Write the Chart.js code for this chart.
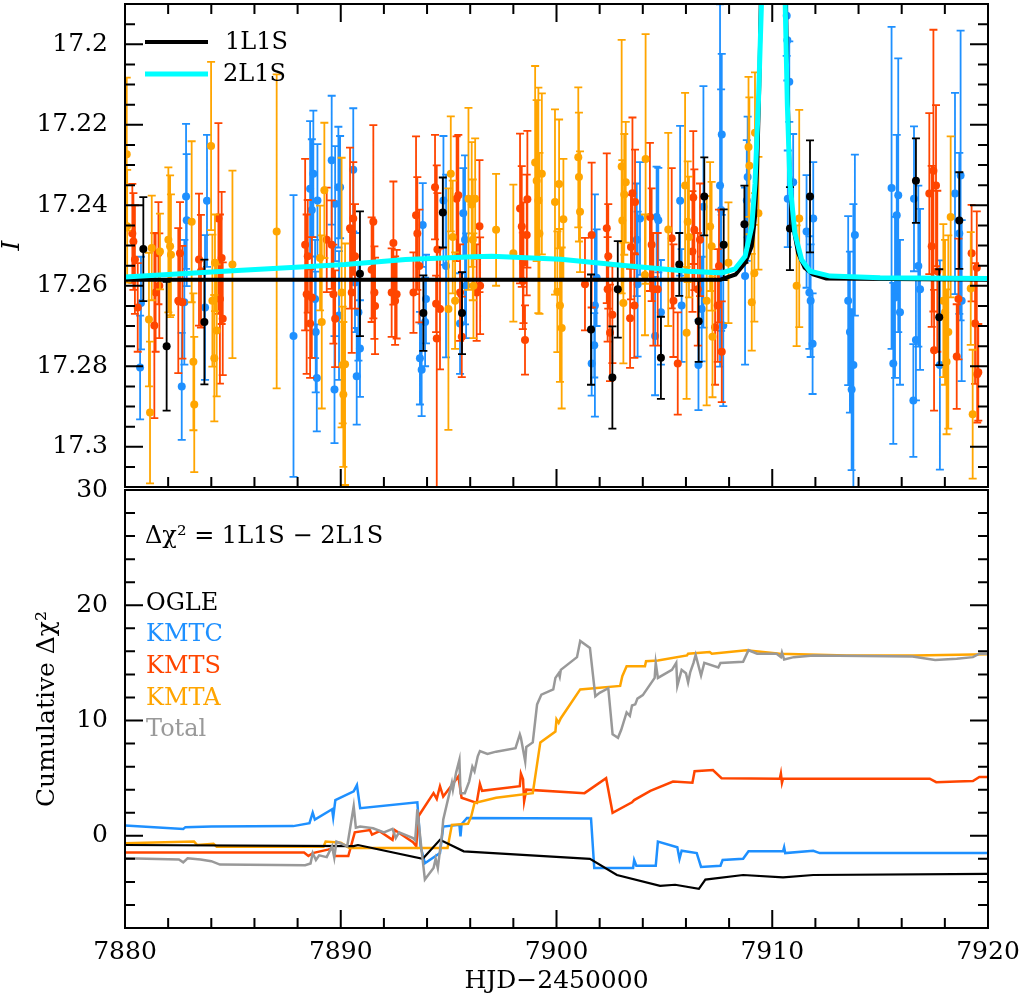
<!DOCTYPE html>
<html>
<head>
<meta charset="utf-8">
<script src="https://cdn.jsdelivr.net/npm/chart.js@4.4.1/dist/chart.umd.min.js"></script>
<style>
  html, body { margin: 0; padding: 0; background: #ffffff; }
  #wrap { position: relative; width: 1020px; height: 995px; overflow: hidden; }
  .panel { position: absolute; left: 0; width: 1020px; }
  #top { top: 0; height: 491px; }
  #bot { top: 470px; height: 525px; }
</style>
</head>
<body>
<div id="wrap">
  <div class="panel" id="top"><canvas id="lightCurve"></canvas></div>
  <div class="panel" id="bot"><canvas id="chiCurve"></canvas></div>
</div>
<script>
// ---- light curve data: [HJD-2450000, I mag, error] ----
const ogle = [
  [7880.85, 17.2509, 0.0129], [7881.93, 17.275, 0.016], [7883.68, 17.269, 0.0155],
  [7890.89, 17.257, 0.0155], [7893.83, 17.2668, 0.0094], [7894.73, 17.2418, 0.0087],
  [7895.62, 17.2668, 0.0102], [7901.60, 17.2709, 0.0137], [7902.59, 17.2828, 0.0127],
  [7902.84, 17.2609, 0.012], [7904.84, 17.2779, 0.0102], [7905.69, 17.2547, 0.0078],
  [7906.59, 17.2688, 0.0101], [7906.85, 17.2378, 0.0097], [7907.75, 17.2498, 0.0088],
  [7908.71, 17.2447, 0.0096], [7910.82, 17.2458, 0.0103], [7911.75, 17.2378, 0.0139],
  [7916.66, 17.2339, 0.0105], [7917.74, 17.2678, 0.0119], [7918.67, 17.2438, 0.012],
]
const kmtc = [
  [7880.70, 17.2803, 0.0129], [7880.74, 17.2643, 0.0115],
  [7882.63, 17.285, 0.0133], [7882.75, 17.2641, 0.0155], [7882.83, 17.2378, 0.018], [7882.86, 17.2437, 0.0164],
  [7883.71, 17.2654, 0.018], [7883.80, 17.2389, 0.0164],
  [7887.81, 17.2725, 0.035],
  [7888.58, 17.2359, 0.0168], [7888.66, 17.2412, 0.0176], [7888.73, 17.2322, 0.0157], [7888.81, 17.2633, 0.0147],
  [7888.84, 17.2715, 0.015], [7888.89, 17.2829, 0.0133], [7888.92, 17.2388, 0.014],
  [7889.58, 17.2288, 0.016], [7889.71, 17.2858, 0.0133], [7889.74, 17.2396, 0.0143], [7889.89, 17.2355, 0.015],
  [7889.92, 17.2674, 0.016], [7889.97, 17.2355, 0.0127],
  [7890.58, 17.2312, 0.0153], [7890.66, 17.2592, 0.0123], [7890.74, 17.2825, 0.012], [7890.82, 17.2666, 0.012],
  [7890.89, 17.2756, 0.012],
  [7893.67, 17.278, 0.0115], [7893.75, 17.2809, 0.0115], [7893.80, 17.2449, 0.0104], [7893.91, 17.269, 0.011],
  [7893.95, 17.2633, 0.011],
  [7894.76, 17.2388, 0.016], [7894.88, 17.2551, 0.0227],
  [7895.53, 17.2694, 0.0125], [7895.68, 17.242, 0.0112], [7895.76, 17.2486, 0.021], [7895.81, 17.26, 0.013],
  [7901.63, 17.2793, 0.008], [7901.75, 17.2748, 0.008], [7901.78, 17.2649, 0.0276], [7901.86, 17.258, 0.012],
  [7903.72, 17.2486, 0.014], [7903.76, 17.2596, 0.018], [7903.87, 17.2433, 0.014],
  [7904.57, 17.2725, 0.0147], [7904.64, 17.2429, 0.0125], [7904.72, 17.2437, 0.013], [7904.84, 17.2666, 0.013],
  [7905.73, 17.2389, 0.0186], [7905.80, 17.2649, 0.014],
  [7906.58, 17.2797, 0.0112], [7906.73, 17.2658, 0.013], [7906.81, 17.2404, 0.03],
  [7907.58, 17.2351, 0.045], [7907.63, 17.2412, 0.03], [7907.66, 17.2224, 0.02], [7907.73, 17.2699, 0.02],
  [7908.74, 17.2576, 0.022], [7908.82, 17.2388, 0.015], [7908.86, 17.233, 0.015],
  [7910.67, 17.1929, 0.01], [7910.70, 17.199, 0.01], [7910.79, 17.2093, 0.01], [7910.72, 17.2384, 0.012],
  [7910.97, 17.2343, 0.012],
  [7911.59, 17.2465, 0.014], [7911.72, 17.2617, 0.014], [7911.78, 17.2637, 0.014], [7911.87, 17.2744, 0.0125],
  [7911.90, 17.2433, 0.014],
  [7913.52, 17.2637, 0.021], [7913.60, 17.2715, 0.02], [7913.68, 17.2858, 0.02], [7913.76, 17.2797, 0.04],
  [7913.83, 17.2474, 0.02],
  [7915.53, 17.2357, 0.04], [7915.61, 17.2793, 0.02], [7915.69, 17.2629, 0.02], [7915.77, 17.2425, 0.02],
  [7915.84, 17.2375, 0.034], [7915.92, 17.2666, 0.018],
  [7916.54, 17.2885, 0.014], [7916.57, 17.2384, 0.018], [7916.66, 17.2735, 0.015], [7916.77, 17.2551, 0.02],
  [7916.85, 17.2609, 0.02],
  [7917.77, 17.2797, 0.026],
  [7918.47, 17.2371, 0.025], [7918.67, 17.247, 0.02], [7918.73, 17.2326, 0.036], [7918.78, 17.2637, 0.02],
]
const kmts = [
  [7880.34, 17.247, 0.0123], [7880.39, 17.249, 0.012], [7880.46, 17.2535, 0.0135], [7880.59, 17.2654, 0.011],
  [7881.36, 17.2699, 0.023], [7881.42, 17.2617, 0.0147], [7881.55, 17.2519, 0.0127], [7881.59, 17.26, 0.013],
  [7882.47, 17.2637, 0.018], [7882.55, 17.2519, 0.0127], [7882.66, 17.2641, 0.014],
  [7883.43, 17.2535, 0.0164], [7883.52, 17.2564, 0.014],
  [7884.33, 17.2433, 0.0237], [7884.40, 17.2633, 0.021], [7884.48, 17.2531, 0.0164], [7884.53, 17.2682, 0.014],
  [7888.35, 17.2498, 0.0213], [7888.42, 17.2621, 0.0198], [7888.47, 17.2527, 0.014], [7888.58, 17.2694, 0.0135],
  [7888.66, 17.2629, 0.015],
  [7889.35, 17.2486, 0.013], [7889.58, 17.2498, 0.011], [7889.66, 17.2621, 0.0123], [7889.74, 17.2682, 0.012],
  [7890.43, 17.2457, 0.02], [7890.51, 17.2617, 0.015], [7890.58, 17.2433, 0.014], [7890.66, 17.2527, 0.013],
  [7891.43, 17.256, 0.013], [7891.51, 17.2441, 0.024], [7891.56, 17.2617, 0.0115], [7891.59, 17.265, 0.012],
  [7892.36, 17.2617, 0.011], [7892.44, 17.2494, 0.0153], [7892.52, 17.2637, 0.011], [7892.59, 17.2621, 0.011],
  [7893.37, 17.2617, 0.01], [7893.49, 17.2425, 0.0196], [7893.55, 17.247, 0.014], [7893.64, 17.2551, 0.014],
  [7894.37, 17.2355, 0.013], [7894.42, 17.2645, 0.007], [7894.45, 17.2731, 0.043], [7894.48, 17.251, 0.014],
  [7894.60, 17.2658, 0.015],
  [7895.37, 17.2384, 0.0155], [7895.45, 17.2375, 0.015], [7895.53, 17.2617, 0.012], [7895.61, 17.2727, 0.01],
  [7896.30, 17.2617, 0.012], [7896.43, 17.2452, 0.0164], [7896.46, 17.26, 0.012],
  [7898.31, 17.2408, 0.0186], [7898.39, 17.2453, 0.015], [7898.44, 17.2588, 0.012], [7898.47, 17.2543, 0.015],
  [7898.54, 17.2735, 0.0086], [7898.62, 17.2474, 0.015], [7898.65, 17.2385, 0.017],
  [7901.32, 17.2596, 0.0115], [7901.63, 17.2474, 0.018],
  [7902.33, 17.2457, 0.0186], [7902.37, 17.2609, 0.013], [7902.40, 17.2527, 0.013], [7902.48, 17.2717, 0.012],
  [7902.59, 17.2672, 0.012],
  [7903.41, 17.2681, 0.0123], [7903.45, 17.2504, 0.013], [7903.52, 17.237, 0.0188], [7903.61, 17.2649, 0.013],
  [7903.64, 17.2392, 0.013],
  [7904.33, 17.2429, 0.0184], [7904.41, 17.2498, 0.014], [7904.49, 17.2609, 0.014], [7904.69, 17.2609, 0.014],
  [7905.34, 17.2482, 0.0174], [7905.42, 17.2637, 0.014], [7905.62, 17.2793, 0.0127],
  [7906.30, 17.2515, 0.015], [7906.34, 17.2381, 0.0165], [7906.39, 17.2461, 0.015], [7906.55, 17.2609, 0.014],
  [7906.65, 17.2486, 0.014],
  [7907.35, 17.2703, 0.0143], [7907.47, 17.2649, 0.014], [7907.53, 17.2551, 0.014], [7907.66, 17.2764, 0.0125],
  [7917.28, 17.2371, 0.02], [7917.39, 17.2502, 0.02], [7917.47, 17.2314, 0.035], [7917.50, 17.276, 0.015],
  [7917.59, 17.2351, 0.02], [7917.65, 17.2564, 0.02],
  [7918.55, 17.2776, 0.013], [7918.63, 17.2633, 0.015],
  [7919.24, 17.2519, 0.012], [7919.40, 17.2694, 0.015], [7919.48, 17.2555, 0.014], [7919.50, 17.282, 0.012],
  [7919.55, 17.2815, 0.012],
]
const kmta = [
  [7880.08, 17.2273, 0.019], [7880.10, 17.2452, 0.014],
  [7881.11, 17.2684, 0.0166], [7881.16, 17.2915, 0.0176], [7881.24, 17.2506, 0.013], [7881.62, 17.2515, 0.0094],
  [7882.01, 17.2486, 0.018], [7882.09, 17.2502, 0.0176], [7882.13, 17.2523, 0.015],
  [7883.09, 17.2441, 0.02], [7883.17, 17.2789, 0.017], [7883.21, 17.2895, 0.0168],
  [7883.99, 17.2253, 0.0209], [7884.05, 17.2637, 0.0164], [7884.14, 17.278, 0.0157], [7884.17, 17.2543, 0.012],
  [7884.25, 17.2711, 0.0164],
  [7884.98, 17.2547, 0.0233],
  [7887.03, 17.2465, 0.039],
  [7889.04, 17.2531, 0.013], [7889.12, 17.269, 0.0215], [7889.24, 17.2363, 0.0168],
  [7890.04, 17.2617, 0.0335], [7890.09, 17.2797, 0.0145], [7890.12, 17.287, 0.018], [7890.20, 17.2795, 0.03],
  [7894.99, 17.2658, 0.03], [7895.10, 17.2322, 0.0143], [7895.19, 17.2479, 0.014], [7895.30, 17.2637, 0.012],
  [7895.92, 17.2384, 0.0226], [7896.07, 17.2398, 0.0155], [7896.12, 17.2486, 0.015], [7896.15, 17.26, 0.013],
  [7896.23, 17.2384, 0.015],
  [7897.20, 17.2461, 0.0139],
  [7898.00, 17.2519, 0.017],
  [7899.01, 17.2294, 0.024], [7899.08, 17.2339, 0.02], [7899.16, 17.2388, 0.028], [7899.21, 17.247, 0.02],
  [7899.32, 17.2322, 0.02],
  [7899.93, 17.2392, 0.023], [7900.04, 17.2615, 0.015],
  [7900.12, 17.2347, 0.016], [7900.16, 17.2649, 0.019], [7900.24, 17.2705, 0.02], [7900.32, 17.2435, 0.015],
  [7901.01, 17.2281, 0.0174], [7901.04, 17.233, 0.016], [7901.09, 17.2416, 0.015],
  [7903.02, 17.2304, 0.0315], [7903.05, 17.2438, 0.015], [7903.10, 17.2643, 0.015], [7903.14, 17.2373, 0.015],
  [7903.21, 17.2343, 0.015],
  [7904.10, 17.2573, 0.015], [7904.13, 17.2285, 0.031],
  [7905.18, 17.246, 0.024],
  [7905.96, 17.2351, 0.023], [7906.03, 17.2717, 0.0164], [7906.08, 17.2441, 0.015], [7906.14, 17.2479, 0.015],
  [7906.96, 17.2637, 0.026], [7907.12, 17.2453, 0.016], [7907.19, 17.2502, 0.016], [7907.23, 17.2727, 0.015],
  [7907.97, 17.2543, 0.015],
  [7908.90, 17.2255, 0.0174], [7908.94, 17.2302, 0.017], [7909.05, 17.2641, 0.012], [7909.17, 17.2569, 0.012],
  [7909.20, 17.222, 0.015], [7909.36, 17.242, 0.014],
  [7911.13, 17.26, 0.015], [7911.25, 17.2433, 0.027],
  [7917.93, 17.2637, 0.019], [7918.01, 17.2666, 0.018], [7918.08, 17.2789, 0.018], [7918.16, 17.2715, 0.024],
  [7918.27, 17.2429, 0.02],
  [7919.20, 17.2607, 0.014], [7919.29, 17.2919, 0.016],
]

// ---- model curves: [HJD-2450000, I mag] ----
const model1L1S = [
  [7880, 17.2585], [7907.6, 17.2585], [7908.3, 17.2572], [7908.75, 17.2543], [7909.05, 17.2502],
  [7909.2, 17.243], [7909.3, 17.2306], [7909.4, 17.21], [7909.5, 17.18], [7909.7, 17.14],
  [7910.4, 17.14], [7910.6, 17.18], [7910.7, 17.21], [7910.8, 17.2306], [7910.97, 17.2453],
  [7911.2, 17.2519], [7911.5, 17.2555], [7911.9, 17.2572], [7912.5, 17.2582], [7920, 17.2585],
]
const model2L1S = [
  [7880, 17.2578], [7885, 17.2563], [7890.2, 17.2547], [7893, 17.2535], [7896.15, 17.2528],
  [7897, 17.2527], [7900.2, 17.2534], [7903, 17.2549], [7906.1, 17.2564], [7907.66, 17.2568],
  [7908.28, 17.2558], [7908.74, 17.2527], [7909.05, 17.2453], [7909.2, 17.2347], [7909.36, 17.2142],
  [7909.5, 17.19], [7909.7, 17.14], [7910.4, 17.14], [7910.6, 17.19], [7910.7, 17.215],
  [7910.82, 17.2345], [7911.05, 17.247], [7911.36, 17.2535], [7911.75, 17.2564], [7912.68, 17.2576],
  [7915, 17.258], [7920, 17.2582],
]

// ---- cumulative delta chi^2: [HJD-2450000, value] ----
const chiOgle = [
  [7880, -0.8], [7890.6, -0.9], [7890.8, -0.8], [7893.8, -2.0], [7894.6, -0.35], [7895.7, -1.35],
  [7901.55, -2.0], [7902.8, -3.4], [7904.8, -4.35], [7905.5, -4.25], [7906.6, -4.6], [7906.9, -3.8],
  [7908.65, -3.4], [7910.5, -3.6], [7911.9, -3.4], [7920, -3.3],
]
const chiKmtc = [
  [7880, 0.9], [7882.7, 0.6], [7882.8, 0.75], [7884, 0.8], [7887.8, 0.84], [7888.55, 1.1], [7888.7, 2.0],
  [7888.8, 1.4], [7889.6, 2.3], [7889.65, 1.6], [7889.75, 3.1], [7890.6, 3.85], [7890.75, 4.4],
  [7890.9, 2.4], [7893.55, 2.9], [7893.7, -0.93], [7893.9, -2.38], [7894.6, -1.5], [7894.75, 0.8],
  [7895.5, 0.95], [7895.55, -0.05], [7895.6, 1.0], [7895.85, 1.55], [7901.6, 1.5], [7901.75, -2.8],
  [7903.55, -2.8], [7903.6, -2.1], [7903.7, -2.6], [7904.6, -2.6], [7904.7, -0.5], [7905.6, -1.0],
  [7905.7, -2.0], [7905.8, -1.3], [7906.5, -1.5], [7906.7, -2.7], [7907.6, -2.6], [7907.7, -2.1],
  [7908.65, -2.0], [7908.9, -1.35], [7910.5, -1.35], [7910.55, -1.0], [7910.6, -1.5], [7911.9, -1.3],
  [7912.2, -1.5], [7920, -1.5],
]
const chiKmts = [
  [7880, -1.45], [7888.3, -1.45], [7888.5, -1.75], [7888.7, -1.5], [7889.4, -1.2], [7889.6, -1.1],
  [7889.75, -1.75], [7890.35, -1.75], [7890.65, 0.3], [7891.35, 0.5], [7891.45, 0.1], [7891.8, 0.4],
  [7892.4, -0.35], [7892.5, 0.5], [7893.35, -0.55], [7893.5, -0.9], [7893.6, 1.7], [7894.3, 3.7],
  [7894.45, 3.2], [7894.6, 4.3], [7894.75, 3.4], [7895.45, 5.15], [7895.6, 3.3], [7896.3, 2.85],
  [7896.45, 4.5], [7896.55, 3.9], [7898.3, 4.3], [7898.35, 5.4], [7898.45, 4.9], [7898.5, 3.0],
  [7898.6, 4.0], [7901.3, 3.7], [7902.3, 5.0], [7902.6, 2.0], [7903.5, 2.9], [7903.6, 3.1],
  [7904.35, 3.9], [7905.4, 4.7], [7906.3, 4.6], [7906.4, 5.6], [7907.25, 5.7], [7907.65, 5.0],
  [7910.35, 4.95], [7910.4, 5.4], [7910.45, 4.6], [7910.5, 4.95], [7917.3, 4.95], [7917.6, 4.65],
  [7918.55, 4.7], [7919.3, 4.75], [7919.6, 5.1], [7920, 5.1],
]
const chiKmta = [
  [7880, -0.65], [7883.2, -0.5], [7883.35, -0.8], [7884.1, -0.7], [7884.25, -0.95], [7889.2, -0.95],
  [7889.3, -0.5], [7890, -0.6], [7890.4, -1.05], [7894.95, -1.05], [7895.15, 0.95], [7895.9, 1.05],
  [7896.05, 1.7], [7896.2, 2.85], [7897.2, 3.3], [7898.9, 3.7], [7899.25, 8.1], [7899.95, 9.05],
  [7900.0, 10.1], [7900.1, 9.8], [7900.2, 10.2], [7901.1, 12.7], [7902.95, 13.0], [7903.05, 13.85],
  [7903.25, 14.7], [7904.1, 14.7], [7904.15, 15.15], [7904.7, 15.2], [7906.05, 15.65], [7906.1, 15.8],
  [7907.1, 15.95], [7907.2, 15.8], [7908.8, 16.1], [7910.35, 15.8], [7913.45, 15.65], [7916.55, 15.65],
  [7920, 15.75],
]
const chiTotal = [
  [7880, -1.95], [7882.5, -2.05], [7882.7, -2.3], [7882.9, -1.95], [7883.5, -2.05], [7884.0, -2.2],
  [7884.4, -2.5], [7888.35, -2.55], [7888.6, -2.4], [7888.7, -1.5], [7888.85, -2.1], [7889.0, -1.7],
  [7889.35, -1.85], [7889.6, -0.9], [7889.7, -1.9], [7889.8, -0.5], [7890.3, -0.9], [7890.6, 2.55],
  [7890.7, 0.7], [7890.9, 0.8], [7891.5, 0.65], [7892.0, 0.3], [7892.4, 0.6], [7892.55, -0.2],
  [7892.7, 0.3], [7893.35, -0.2], [7893.45, -0.4], [7893.55, 2.3], [7893.75, -1.3], [7893.9, -3.8],
  [7894.3, -2.8], [7894.4, -2.0], [7894.5, -2.8], [7894.7, 0.25], [7894.75, 1.4], [7895.15, 4.6],
  [7895.2, 4.0], [7895.35, 5.5], [7895.5, 6.6], [7895.55, 3.7], [7895.75, 3.7], [7895.95, 4.7],
  [7896.1, 6.0], [7896.2, 5.6], [7896.35, 6.9], [7896.45, 7.35], [7896.8, 7.1], [7897.2, 7.3],
  [7898.1, 7.6], [7898.3, 8.8], [7898.35, 8.5], [7898.55, 6.45], [7898.6, 7.7], [7898.9, 8.1],
  [7899.1, 11.4], [7899.3, 12.25], [7899.85, 12.7], [7899.95, 13.7], [7900.1, 14.1], [7900.15, 13.8],
  [7900.2, 14.4], [7900.95, 15.5], [7901.1, 16.9], [7901.55, 16.3], [7901.8, 12.1], [7902.0, 12.4],
  [7902.4, 12.8], [7902.6, 8.8], [7902.85, 8.5], [7903.0, 9.2], [7903.25, 10.7], [7903.4, 10.4],
  [7903.5, 11.3], [7903.65, 11.4], [7903.75, 11.9], [7904.0, 12.2], [7904.55, 13.7], [7904.6, 15.0],
  [7904.7, 13.7], [7905.35, 14.4], [7905.55, 15.0], [7905.6, 13.0], [7905.8, 14.4], [7906.0, 14.1],
  [7906.1, 13.3], [7906.2, 14.2], [7906.35, 15.0], [7906.45, 15.7], [7906.7, 13.9], [7906.85, 15.0],
  [7907.5, 14.6], [7907.6, 15.0], [7908.65, 15.1], [7908.9, 16.1], [7909.3, 15.8], [7910.2, 15.8],
  [7910.4, 15.5], [7910.45, 15.9], [7910.55, 15.3], [7911.0, 15.5], [7911.9, 15.65], [7916.5, 15.55],
  [7917.55, 15.25], [7918.55, 15.35], [7919.3, 15.5], [7919.6, 15.8], [7920, 15.8],
]

// ---- tick labels ----
const dayTicks = [7880, 7890, 7900, 7910, 7920]
const magTicks = [17.2, 17.22, 17.24, 17.26, 17.28, 17.3]
const chiTicks = [0, 10, 20, 30]

const FONT = "'DejaVu Serif', serif"
Chart.defaults.font.family = FONT
Chart.defaults.font.size = 25
Chart.defaults.color = '#000000'
Chart.defaults.animation = false

const BLUE = '#1e90ff'
const RED = '#ff4500'
const ORANGE = '#ffa500'
const GREY = '#999999'

// error bars drawn under each marker dataset
const errorBars = {
  id: 'errorBars',
  beforeDatasetDraw(chart, args) {
    const ds = chart.data.datasets[args.index]
    if (!ds.errorBars) return
    const { ctx, chartArea, scales: { x, y } } = chart
    ctx.save()
    ctx.beginPath()
    ctx.rect(chartArea.left, chartArea.top, chartArea.width, chartArea.height)
    ctx.clip()
    ctx.strokeStyle = ds.borderColor
    ctx.lineWidth = 1.8
    ctx.beginPath()
    ds.data.forEach((p) => {
      const px = x.getPixelForValue(p.x)
      const y1 = y.getPixelForValue(p.y - p.e)
      const y2 = y.getPixelForValue(p.y + p.e)
      ctx.moveTo(px, y1)
      ctx.lineTo(px, y2)
      ctx.moveTo(px - 4, y1)
      ctx.lineTo(px + 4, y1)
      ctx.moveTo(px - 4, y2)
      ctx.lineTo(px + 4, y2)
    })
    ctx.stroke()
    ctx.restore()
  },
}

// box frame with inward major/minor ticks
const frameTicks = {
  id: 'frameTicks',
  afterDraw(chart, args, opts) {
    if (!opts.xMinor) return
    const {
      ctx,
      chartArea: { left, right, top, bottom },
      scales: { x, y },
    } = chart
    const isMajor = (v, step) => Math.abs(v / step - Math.round(v / step)) < 1e-6
    ctx.save()
    ctx.strokeStyle = '#000000'
    ctx.lineWidth = 2
    ctx.strokeRect(left, top, right - left, bottom - top)
    ctx.beginPath()
    const nx = Math.round((x.max - x.min) / opts.xMinor)
    for (let i = 0; i <= nx; i++) {
      const v = x.min + i * opts.xMinor
      const len = isMajor(v, opts.xMajor) ? 18 : 10
      const px = x.getPixelForValue(v)
      if (opts.xBottom) {
        ctx.moveTo(px, bottom)
        ctx.lineTo(px, bottom - len)
      }
      if (opts.xTop) {
        ctx.moveTo(px, top)
        ctx.lineTo(px, top + len)
      }
    }
    const k0 = Math.ceil(y.min / opts.yMinor - 1e-6)
    const k1 = Math.floor(y.max / opts.yMinor + 1e-6)
    for (let k = k0; k <= k1; k++) {
      const v = k * opts.yMinor
      const len = isMajor(v, opts.yMajor) ? 18 : 10
      const py = y.getPixelForValue(v)
      ctx.moveTo(left, py)
      ctx.lineTo(left + len, py)
      ctx.moveTo(right, py)
      ctx.lineTo(right - len, py)
    }
    ctx.stroke()
    ctx.restore()
  },
}

// in-panel labels and legend keys
const panelText = {
  id: 'panelText',
  afterDraw(chart, args, opts) {
    const { ctx } = chart
    ctx.save()
    ;(opts.keys || []).forEach((k) => {
      ctx.strokeStyle = k.color
      ctx.lineWidth = k.width
      ctx.beginPath()
      ctx.moveTo(k.x1, k.y)
      ctx.lineTo(k.x2, k.y)
      ctx.stroke()
    })
    ctx.textBaseline = 'middle'
    ctx.textAlign = 'left'
    ;(opts.items || []).forEach((t) => {
      ctx.font = '24px ' + FONT
      ctx.fillStyle = t.color || '#000000'
      ctx.fillText(t.text, t.x, t.y)
    })
    ctx.restore()
  },
}

Chart.register(errorBars, frameTicks, panelText)

function markSet(label, rows, color, order) {
  return {
    label,
    data: rows.map(([x, y, e]) => ({ x, y, e })),
    errorBars: true,
    borderColor: color,
    backgroundColor: color,
    pointRadius: 4,
    pointBorderWidth: 0,
    pointHoverRadius: 4,
    order,
  }
}

function lineSet(label, rows, color, width, order) {
  return {
    label,
    data: rows.map(([x, y]) => ({ x, y })),
    showLine: true,
    borderColor: color,
    backgroundColor: color,
    borderWidth: width,
    pointRadius: 0,
    pointHoverRadius: 0,
    tension: 0,
    order,
  }
}

function leftAxis(min, max, reverse, ticks, fmt, title) {
  return {
    type: 'linear',
    position: 'left',
    min,
    max,
    reverse,
    grid: { display: false, drawTicks: false },
    border: { display: false },
    afterBuildTicks: (s) => {
      s.ticks = ticks.map((value) => ({ value }))
    },
    afterFit: (s) => {
      s.width = 125
      s.paddingTop = 0
      s.paddingBottom = 0
    },
    ticks: { padding: 17, callback: fmt },
    title,
  }
}

new Chart(document.getElementById('lightCurve'), {
  type: 'scatter',
  data: {
    datasets: [
      lineSet('2L1S', model2L1S, '#00ffff', 5, 0),
      lineSet('1L1S', model1L1S, '#000000', 4, 1),
      markSet('OGLE', ogle, '#000000', 2),
      markSet('KMTA', kmta, ORANGE, 3),
      markSet('KMTS', kmts, RED, 4),
      markSet('KMTC', kmtc, BLUE, 5),
    ],
  },
  options: {
    responsive: true,
    maintainAspectRatio: false,
    layout: { padding: { top: 1, bottom: 1, left: 0, right: 32 } },
    plugins: {
      legend: { display: false },
      tooltip: { enabled: false },
      frameTicks: { xMinor: 2, xMajor: 10, yMinor: 0.005, yMajor: 0.02, xTop: true, xBottom: true },
      panelText: {
        keys: [
          { x1: 145, x2: 208, y: 42, color: '#000000', width: 4 },
          { x1: 145, x2: 208, y: 74, color: '#00ffff', width: 5 },
        ],
        items: [
          { text: '1L1S', x: 225, y: 43 },
          { text: '2L1S', x: 223, y: 75 },
        ],
      },
    },
    scales: {
      x: { type: 'linear', min: 7880, max: 7920, display: false },
      y: leftAxis(17.19, 17.31, true, magTicks, (v) => String(+v.toFixed(2)), {
        display: true,
        text: 'I',
        font: { style: 'italic', size: 25, lineHeight: 1 },
        padding: { top: 0, bottom: 0 },
      }),
    },
  },
})

new Chart(document.getElementById('chiCurve'), {
  type: 'scatter',
  data: {
    datasets: [
      lineSet('Total', chiTotal, GREY, 2.5, 0),
      lineSet('OGLE', chiOgle, '#000000', 2.2, 1),
      lineSet('KMTA', chiKmta, ORANGE, 2.5, 2),
      lineSet('KMTS', chiKmts, RED, 2.5, 3),
      lineSet('KMTC', chiKmtc, BLUE, 2.5, 4),
    ],
  },
  options: {
    responsive: true,
    maintainAspectRatio: false,
    layout: { padding: { top: 20, bottom: 0, left: 0, right: 32 } },
    plugins: {
      legend: { display: false },
      tooltip: { enabled: false },
      frameTicks: { xMinor: 2, xMajor: 10, yMinor: 2, yMajor: 10, xTop: false, xBottom: true },
      panelText: {
        items: [
          { text: 'Δχ² = 1L1S − 2L1S', x: 145, y: 67 },
          { text: 'OGLE', x: 146, y: 134, color: '#000000' },
          { text: 'KMTC', x: 146, y: 165, color: BLUE },
          { text: 'KMTS', x: 146, y: 197, color: RED },
          { text: 'KMTA', x: 146, y: 229, color: ORANGE },
          { text: 'Total', x: 146, y: 260, color: GREY },
        ],
      },
    },
    scales: {
      x: {
        type: 'linear',
        position: 'bottom',
        min: 7880,
        max: 7920,
        grid: { display: false, drawTicks: false },
        border: { display: false },
        afterBuildTicks: (s) => {
          s.ticks = dayTicks.map((value) => ({ value }))
        },
        afterFit: (s) => {
          s.height = 67
          s.paddingLeft = 0
          s.paddingRight = 0
        },
        ticks: { padding: 9, maxRotation: 0, callback: (v) => String(v) },
        title: {
          display: true,
          text: 'HJD−2450000',
          font: { size: 25, lineHeight: 1 },
          padding: { top: 0, bottom: 1 },
        },
      },
      y: leftAxis(-8, 30, false, chiTicks, (v) => String(v), {
        display: true,
        text: 'Cumulative Δχ²',
        font: { size: 25, lineHeight: 1 },
        padding: { top: 35, bottom: 0 },
      }),
    },
  },
})
</script>
</body>
</html>
